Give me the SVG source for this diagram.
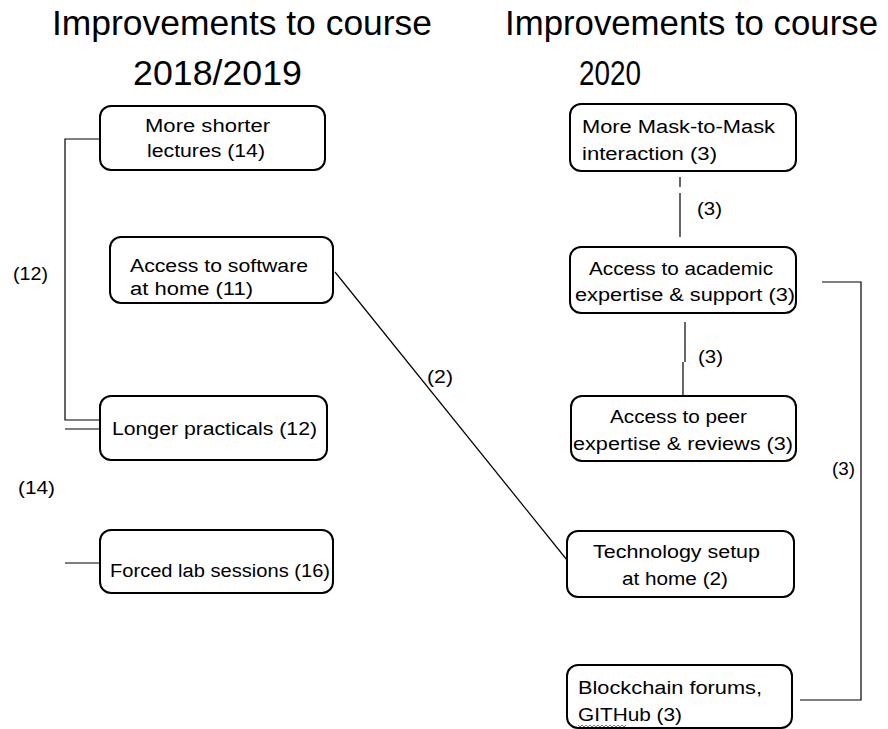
<svg xmlns="http://www.w3.org/2000/svg" width="888" height="729" viewBox="0 0 888 729">
<style>
.t{font-family:"Liberation Sans",Arial,sans-serif;fill:#000}
.h{font-size:35px}
.n{font-size:18px}
.box{fill:#fff;stroke:#000;stroke-width:2}
.c{fill:none;stroke:#000;stroke-width:1.2}
</style>
<rect width="888" height="729" fill="#fff"/>
<g id="titles">
<text class="t h" x="52" y="35" textLength="380" lengthAdjust="spacingAndGlyphs">Improvements to course</text>
<text class="t h" x="133" y="85" textLength="169" lengthAdjust="spacingAndGlyphs">2018/2019</text>
<text class="t h" x="505" y="35" textLength="373" lengthAdjust="spacingAndGlyphs">Improvements to course</text>
<text class="t h" x="579" y="85" textLength="62" lengthAdjust="spacingAndGlyphs">2020</text>
</g>
<g id="connectors">
<polyline class="c" points="100,139 65,139 65,420 100,420"/>
<line class="c" x1="65" y1="429" x2="100" y2="429"/>
<line class="c" x1="65" y1="563" x2="100" y2="563"/>
<line class="c" x1="335" y1="272" x2="567" y2="560"/>
<line class="c" x1="680" y1="177" x2="680" y2="187"/>
<line class="c" x1="680" y1="193" x2="680" y2="237"/>
<line class="c" x1="685" y1="322" x2="685" y2="362"/>
<line class="c" x1="683" y1="362" x2="683" y2="397"/>
<polyline class="c" points="822,282 861,282 861,700 800,700"/>
<text class="t n" x="13" y="280" textLength="35" lengthAdjust="spacingAndGlyphs">(12)</text>
<text class="t n" x="18" y="494" textLength="37" lengthAdjust="spacingAndGlyphs">(14)</text>
<text class="t n" x="427" y="383" textLength="26" lengthAdjust="spacingAndGlyphs">(2)</text>
<text class="t n" x="697" y="215" textLength="25" lengthAdjust="spacingAndGlyphs">(3)</text>
<text class="t n" x="698" y="363" textLength="25" lengthAdjust="spacingAndGlyphs">(3)</text>
<text class="t n" x="832" y="475" textLength="23" lengthAdjust="spacingAndGlyphs">(3)</text>
</g>
<g id="n1">
<rect class="box" x="100" y="106" width="225" height="64" rx="11"/>
<text class="t n" x="145" y="132" textLength="125" lengthAdjust="spacingAndGlyphs">More shorter</text>
<text class="t n" x="147" y="157" textLength="118" lengthAdjust="spacingAndGlyphs">lectures (14)</text>
</g>
<g id="n2">
<rect class="box" x="110" y="237" width="223" height="66" rx="11"/>
<text class="t n" x="130" y="272" textLength="178" lengthAdjust="spacingAndGlyphs">Access to software</text>
<text class="t n" x="130" y="295" textLength="123" lengthAdjust="spacingAndGlyphs">at home (11)</text>
</g>
<g id="n3">
<rect class="box" x="100" y="396" width="227" height="64" rx="11"/>
<text class="t n" x="112" y="435" textLength="205" lengthAdjust="spacingAndGlyphs">Longer practicals (12)</text>
</g>
<g id="n4">
<rect class="box" x="100" y="530" width="233" height="63" rx="11"/>
<text class="t n" x="110" y="577" textLength="220" lengthAdjust="spacingAndGlyphs">Forced lab sessions (16)</text>
</g>
<g id="r1">
<rect class="box" x="570" y="104" width="226" height="67" rx="11"/>
<text class="t n" x="582" y="133" textLength="193" lengthAdjust="spacingAndGlyphs">More Mask-to-Mask</text>
<text class="t n" x="582" y="160" textLength="135" lengthAdjust="spacingAndGlyphs">interaction (3)</text>
</g>
<g id="r2">
<rect class="box" x="570" y="247" width="226" height="66" rx="11"/>
<text class="t n" x="589" y="275" textLength="184" lengthAdjust="spacingAndGlyphs">Access to academic</text>
<text class="t n" x="575" y="301" textLength="220" lengthAdjust="spacingAndGlyphs">expertise &amp; support (3)</text>
</g>
<g id="r3">
<rect class="box" x="571" y="396" width="225" height="65" rx="11"/>
<text class="t n" x="610" y="423" textLength="137" lengthAdjust="spacingAndGlyphs">Access to peer</text>
<text class="t n" x="573" y="450" textLength="220" lengthAdjust="spacingAndGlyphs">expertise &amp; reviews (3)</text>
</g>
<g id="r4">
<rect class="box" x="567" y="531" width="227" height="66" rx="11"/>
<text class="t n" x="593" y="558" textLength="167" lengthAdjust="spacingAndGlyphs">Technology setup</text>
<text class="t n" x="622" y="585" textLength="106" lengthAdjust="spacingAndGlyphs">at home (2)</text>
</g>
<g id="r5">
<rect class="box" x="567" y="665" width="225" height="63" rx="11"/>
<text class="t n" x="578" y="694" textLength="184" lengthAdjust="spacingAndGlyphs">Blockchain forums,</text>
<text class="t n" x="578" y="721" textLength="104" lengthAdjust="spacingAndGlyphs">GITHub (3)</text>
<path d="M578,725 l2,2 l2,-2 l2,2 l2,-2 l2,2 l2,-2 l2,2 l2,-2 l2,2 l2,-2 l2,2 l2,-2 l2,2 l2,-2 l2,2 l2,-2 l2,2 l2,-2 l2,2 l2,-2 l2,2 l2,-2 l2,2 l2,-2" fill="none" stroke="#555" stroke-width="0.8"/>
</g>
</svg>
